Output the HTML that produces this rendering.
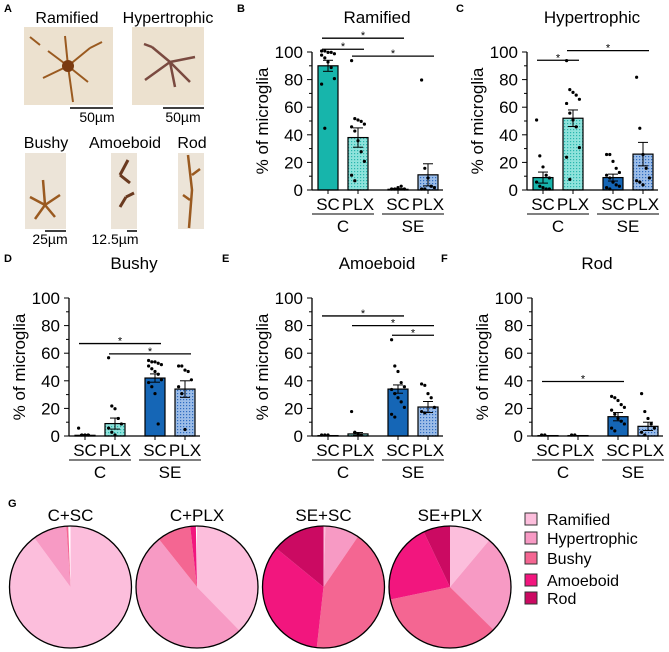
<!DOCTYPE html>
<html><head><meta charset="utf-8"><style>
html,body{margin:0;padding:0;background:#fff;}
svg{display:block;font-family:"Liberation Sans",Arial,sans-serif;}
</style></head><body>
<svg id="fig" width="669" height="652" viewBox="0 0 669 652">
<defs>
<pattern id="dotT" width="3" height="3" patternUnits="userSpaceOnUse"><rect width="3" height="3" fill="#8fe3dc"/><rect width="1.2" height="1.2" fill="#2ab5ad"/></pattern>
<pattern id="dotB" width="3" height="3" patternUnits="userSpaceOnUse"><rect width="3" height="3" fill="#9cbde8"/><rect width="1.2" height="1.2" fill="#2e6cc0"/></pattern>
</defs>
<g>
<text x="4" y="12" font-size="11" font-weight="bold">A</text>
<text x="67" y="23" font-size="16" text-anchor="middle">Ramified</text>
<text x="168" y="23" font-size="16" text-anchor="middle">Hypertrophic</text>
<rect x="24" y="27" width="89" height="78" fill="#ece1cf"/>
<path d="M68 66 l-20 -15 M68 66 l22 -18 M68 66 l-25 12 M68 66 l20 16 M68 66 l5 36 M68 66 l-3 -30 M40 45 l-10 -8 M90 48 l12 -6" stroke="#9a5a20" stroke-width="2" fill="none"/>
<circle cx="68" cy="66" r="6" fill="#7a3a10"/>
<rect x="132" y="27" width="72" height="78" fill="#ece1cf"/>
<path d="M170 62 l25 -5 M170 62 l-18 -15 M170 62 l-25 18 M170 62 l5 25 M170 62 l20 20 M152 47 l-8 -3" stroke="#7a4a40" stroke-width="2.5" fill="none"/>
<line x1="70" y1="108" x2="113" y2="108" stroke="#000" stroke-width="1.5"/>
<text x="97" y="122" font-size="14" text-anchor="middle">50µm</text>
<line x1="163" y1="108" x2="204" y2="108" stroke="#000" stroke-width="1.5"/>
<text x="183" y="122" font-size="14" text-anchor="middle">50µm</text>
<text x="46" y="148" font-size="16" text-anchor="middle">Bushy</text>
<text x="125" y="148" font-size="16" text-anchor="middle">Amoeboid</text>
<text x="192" y="148" font-size="16" text-anchor="middle">Rod</text>
<rect x="25" y="153" width="41" height="76" fill="#ece4d8"/>
<path d="M45 205 l-15 -8 M45 205 l15 -10 M45 205 l-2 -25 M45 205 l10 12 M45 205 l-10 14" stroke="#9a5a20" stroke-width="2.5" fill="none"/>
<rect x="111" y="153" width="26" height="76" fill="#ece4d8"/>
<path d="M120 175 l8 -15 M126 197 l-6 10 M126 197 l8 -4 M120 175 l10 8" stroke="#6a3a20" stroke-width="3" fill="none"/>
<rect x="178" y="153" width="26" height="76" fill="#ece4d8"/>
<path d="M188 155 l4 35 l-3 38 M192 175 l8 -6 M190 200 l-7 -5" stroke="#9a5a20" stroke-width="2.5" fill="none"/>
<line x1="45" y1="231" x2="66" y2="231" stroke="#000" stroke-width="1.5"/>
<text x="50" y="244" font-size="14" text-anchor="middle">25µm</text>
<line x1="127" y1="231" x2="137" y2="231" stroke="#000" stroke-width="1.5"/>
<text x="115" y="244" font-size="14" text-anchor="middle">12.5µm</text>
</g>
<g id="charts"></g>
<g id="pies"></g>
</svg>
<script>
const groups = ["SC","PLX","SC","PLX"];
const groupLabels = ["C","SE"];
const yTicks = [0,20,40,60,80,100];
const panelNames = ["Ramified","Hypertrophic","Bushy","Amoeboid","Rod"];
const panelLetters = ["B","C","D","E","F"];
const meanRamified = [90,38,0.5,11];
const meanHypertrophic = [9,52,9,26];
const meanBushy = [0.5,9,42,34];
const meanAmoeboid = [0.3,1.5,34,21];
const meanRod = [0.3,0.3,14,7];
const semRamified = [4,7,0.5,8];
const semHypertrophic = [4,6,2.5,8.5];
const semBushy = [0.5,4,3,6];
const semAmoeboid = [0,1,3,4];
const semRod = [0,0,3,3];
const ptsRamified = [[100,100,99,99,98,97,95,92,88,80,76,44],[93,51,50,49,47,45,42,35,27,20,10,6],[0,0,1,2,0],[79,15,8,2,1,0,0]];
const ptsHypertrophic = [[50,24,16,10,8,5,2,1,0,0],[93,72,70,68,65,62,55,50,45,30,23,7],[25,25,20,15,12,10,8,5,3,2,1,0],[81,44,25,15,8,6,5,3]];
const ptsBushy = [[5,0,0,0],[56,21,19,12,8,5,2,0],[54,53,53,52,51,50,48,46,44,40,38,35,30,8],[50,50,47,46,40,35,30,4]];
const ptsAmoeboid = [[0,0,0],[17,2,1,0],[69,50,46,38,35,33,30,27,24,20,15,13],[37,36,30,27,20,17,16]];
const ptsRod = [[0,0],[0,0],[28,27,25,22,20,18,15,12,10,8,5,3],[30,17,12,8,5,2,0]];
const sigRamified = [[0,2,110],[0,1,102],[1,3,97]];
const sigHypertrophic = [[0,1,94],[1,3,101]];
const sigBushy = [[0,2,67],[1,3,59.5]];
const sigAmoeboid = [[0,2,87],[1,3,80],[2,3,73]];
const sigRod = [[0,2,39.5]];

const means=[meanRamified,meanHypertrophic,meanBushy,meanAmoeboid,meanRod];
const sems=[semRamified,semHypertrophic,semBushy,semAmoeboid,semRod];
const pts=[ptsRamified,ptsHypertrophic,ptsBushy,ptsAmoeboid,ptsRod];
const sigs=[sigRamified,sigHypertrophic,sigBushy,sigAmoeboid,sigRod];
const layout=[{ax:312,y0:190,labX:237,labY:12,row:0},{ax:527,y0:190,labX:456,labY:12,row:0},{ax:69,y0:436,labX:4,labY:262,row:1},{ax:312,y0:436,labX:222,labY:262,row:1},{ax:532,y0:436,labX:441,labY:262,row:1}];
const fills=["#17b5ab","url(#dotT)","#1566b6","url(#dotB)"];
const NS="http://www.w3.org/2000/svg";
function mk(tag,at,parent,txt){const e=document.createElementNS(NS,tag);for(const k in at)e.setAttribute(k,at[k]);if(txt!==undefined)e.textContent=txt;parent.appendChild(e);return e;}
const charts=document.getElementById('charts');
panelNames.forEach((nm,p)=>{
  const L=layout[p];const ax=L.ax,y0=L.y0,y100=y0-138;
  const ys=v=>y0-(v/100)*138;
  const bx=i=>ax+6+[0,30,70,100][i];
  const g=mk('g',{},charts);
  
  
  const lab=mk('text',{x:L.labX,y:L.labY,'font-size':11,'font-weight':'bold'},g,panelLetters[p]);
  
  
  const t=mk('text',{x:ax+65,y:y0-167,'font-size':17,'text-anchor':'middle'},g,nm);
  
  
  const yt=mk('text',{x:0,y:0,'font-size':17,'text-anchor':'middle',transform:`translate(${ax-44},${(y0+y100)/2}) rotate(-90)`},g,'% of microglia');
  
  
  mk('line',{x1:ax,y1:y100,x2:ax,y2:y0,stroke:'#000','stroke-width':1.3},g);
  for(let v=0;v<=100;v+=10){mk('line',{x1:ax-(v%20?3:5),y1:ys(v),x2:ax,y2:ys(v),stroke:'#000','stroke-width':1},g);}
  yTicks.forEach(v=>{const tl=mk('text',{x:ax-9,y:ys(v)+6,'font-size':17,'text-anchor':'end'},g,v);
    
    });
  means[p].forEach((m,i)=>{
    const b=mk('rect',{x:bx(i),y:ys(m),width:20,height:y0-ys(m),fill:fills[i],stroke:'#000','stroke-width':1.2},g);
    
    
    const cx=bx(i)+10,s=sems[p][i];
    if(s>0){mk('line',{x1:cx,y1:ys(m+s),x2:cx,y2:ys(m-s),stroke:'#000','stroke-width':1},g);
      mk('line',{x1:cx-5,y1:ys(m+s),x2:cx+5,y2:ys(m+s),stroke:'#000','stroke-width':1},g);
      mk('line',{x1:cx-5,y1:ys(m-s),x2:cx+5,y2:ys(m-s),stroke:'#000','stroke-width':1},g);}
    const arr=pts[p][i];
    arr.forEach((v,k)=>{const off=((k%5)-2)*3.2;
      const d=mk('circle',{cx:cx+off,cy:ys(v)-1,r:1.6,fill:'#000'},g);
      
      });
  });
  mk('line',{x1:ax,y1:y0,x2:ax+131,y2:y0,stroke:'#000','stroke-width':1.3},g);
  groups.forEach((gl,i)=>{mk('line',{x1:bx(i)+10,y1:y0,x2:bx(i)+10,y2:y0+4,stroke:'#000'},g);
    const xl=mk('text',{x:bx(i)+10,y:y0+20,'font-size':17,'text-anchor':'middle'},g,gl);
    
    });
  groupLabels.forEach((gl,j)=>{const x1=bx(2*j)-6,x2=bx(2*j+1)+26;
    mk('line',{x1:x1,y1:y0+24,x2:x2,y2:y0+24,stroke:'#000','stroke-width':1},g);
    const gt=mk('text',{x:(x1+x2)/2,y:y0+42,'font-size':17,'text-anchor':'middle'},g,gl);
    
    });
  sigs[p].forEach(s=>{const x1=bx(s[0])+4,x2=bx(s[1])+16,y=ys(s[2]);
    const sl=mk('line',{x1:x1,y1:y,x2:x2,y2:y,stroke:'#000','stroke-width':1.3},g);
    
    
    mk('text',{x:(x1+x2)/2,y:y+1,'font-size':11,'text-anchor':'middle'},g,'*');});
});
// pies
const pieTitles=["C+SC","C+PLX","SE+SC","SE+PLX"];
const pieCats=["Ramified","Hypertrophic","Bushy","Amoeboid","Rod"];
const pieColors=["#fcbedc","#f79ac4","#f46692","#f2167e","#cb0a62"];
const pies=document.getElementById('pies');
const gl=mk('text',{x:8,y:507,'font-size':11,'font-weight':'bold'},pies,'G');


pieTitles.forEach((pt,k)=>{
  const cx=70.5+k*126.5,cy=587,r=61;
  const vals=means.map(m=>Math.max(m[k],0));
  const tot=vals.reduce((a,b)=>a+b,0);
  const g=mk('g',{},pies);
  
  
  const tt=mk('text',{x:cx,y:521,'font-size':17,'text-anchor':'middle'},g,pt);
  
  
  let a=0;
  vals.forEach((v,i)=>{ if(v/tot<0.004)return;
    const a2=a+v/tot*2*Math.PI;
    const p1=[cx+r*Math.sin(a),cy-r*Math.cos(a)],p2=[cx+r*Math.sin(a2),cy-r*Math.cos(a2)];
    const large=(a2-a)>Math.PI?1:0;
    const s=mk('path',{d:`M${cx},${cy} L${p1[0]},${p1[1]} A${r},${r} 0 ${large} 1 ${p2[0]},${p2[1]} Z`,fill:pieColors[i]},g);
    
    
    a=a2;});
  mk('circle',{cx:cx,cy:cy,r:r,fill:'none',stroke:'#000','stroke-width':1.3},g);
});
const lg=mk('g',{},pies);


const legY=[519,538,558,580,598];
pieCats.forEach((c,i)=>{
  mk('rect',{x:525,y:legY[i]-6,width:12,height:12,fill:pieColors[i],stroke:'#333','stroke-width':1},lg);
  const e=mk('text',{x:547,y:legY[i]+6,'font-size':16},lg,c);
  
  
});
</script>
</body></html>
